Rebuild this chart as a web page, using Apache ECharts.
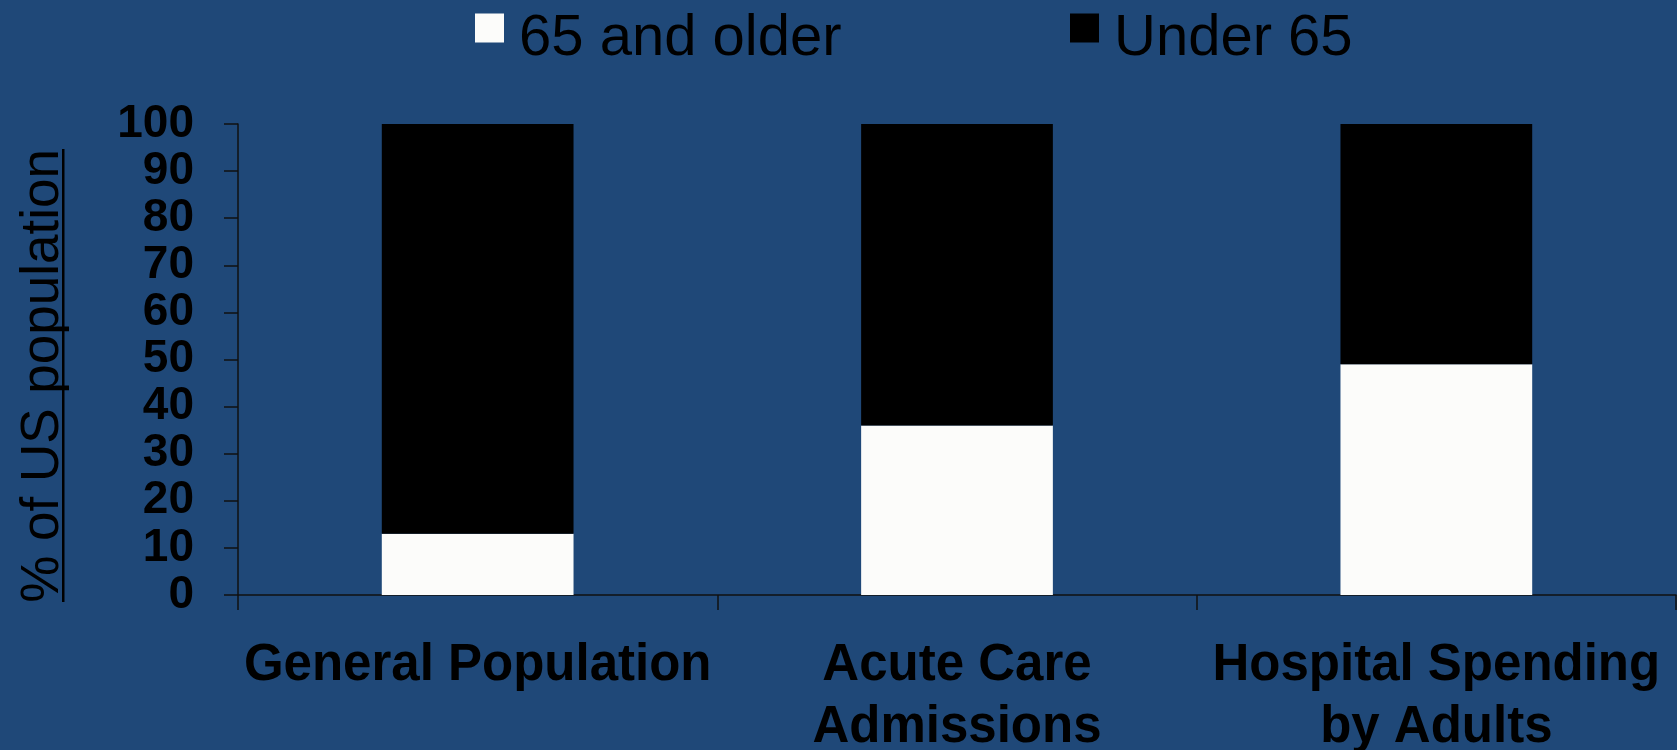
<!DOCTYPE html>
<html>
<head>
<meta charset="utf-8">
<script src="https://cdn.jsdelivr.net/npm/echarts@6/dist/echarts.min.js"></script>
<style>
html,body{margin:0;padding:0;background:#1f4878;}
#chart{width:1677px;height:750px;}
</style>
</head>
<body>
<div id="chart"></div>
<script>
var categories = ['General Population', 'Acute Care\nAdmissions', 'Hospital Spending\nby Adults'];
var olderValues = [13, 36, 49];
var underValues = [87, 64, 51];
var yTicks = [0, 10, 20, 30, 40, 50, 60, 70, 80, 90, 100];
var seriesNames = ['65 and older', 'Under 65'];
var yAxisTitle = '% of US population';

var FONT = "'Liberation Sans', Arial, sans-serif";
var chart = echarts.init(document.getElementById('chart'));
var legendBase = {
  orient: 'horizontal',
  top: -12,
  padding: 0,
  itemWidth: 29,
  itemHeight: 29,
  icon: 'rect',
  formatter: '{t|{name}}',
  textStyle: {
    color: '#000', fontSize: 58, fontFamily: FONT,
    rich: { t: { color: '#000', fontSize: 58, fontFamily: FONT, lineHeight: 58, padding: [22, 0, 0, 10] } }
  }
};
chart.setOption({
  backgroundColor: '#1f4878',
  animation: false,
  legend: [
    Object.assign({}, legendBase, { left: 475, data: [seriesNames[0]] }),
    Object.assign({}, legendBase, { left: 1070, data: [seriesNames[1]] })
  ],
  grid: { left: 238, right: 1, top: 124, bottom: 155, containLabel: false, outerBoundsMode: 'none' },
  xAxis: {
    type: 'category',
    data: categories,
    axisLine: { show: true, lineStyle: { color: '#111', width: 1.5 } },
    axisTick: { show: true, length: 15, lineStyle: { color: '#111', width: 1.5 } },
    axisLabel: { interval: 0, color: '#000', fontSize: 51, fontWeight: 'bold', fontFamily: FONT, lineHeight: 62, margin: 40 }
  },
  yAxis: {
    type: 'value',
    min: yTicks[0],
    max: yTicks[yTicks.length - 1],
    interval: 10,
    axisLine: { show: true, lineStyle: { color: '#111', width: 1.5 } },
    axisTick: { show: true, length: 14, lineStyle: { color: '#111', width: 1.5 } },
    splitLine: { show: false },
    axisLabel: { color: '#000', fontSize: 46, lineHeight: 40, fontWeight: 'bold', fontFamily: FONT, margin: 44, showMinLabel: true, showMaxLabel: true, hideOverlap: false }
  },
  graphic: [
    {
      type: 'text',
      x: 43, y: 376,
      rotation: Math.PI / 2,
      style: { text: yAxisTitle, font: '53px ' + FONT, fill: '#000', textAlign: 'center', textVerticalAlign: 'middle' }
    },
    {
      type: 'rect',
      shape: { x: 62, y: 149, width: 2.5, height: 453 },
      style: { fill: '#000' }
    }
  ],
  series: [
    {
      name: seriesNames[0], type: 'bar', stack: 'total', data: olderValues,
      barWidth: '40%',
      itemStyle: { color: '#fcfcfa' }
    },
    {
      name: seriesNames[1], type: 'bar', stack: 'total', data: underValues,
      barWidth: '40%',
      itemStyle: { color: '#000000' }
    }
  ]
});
</script>
</body>
</html>
